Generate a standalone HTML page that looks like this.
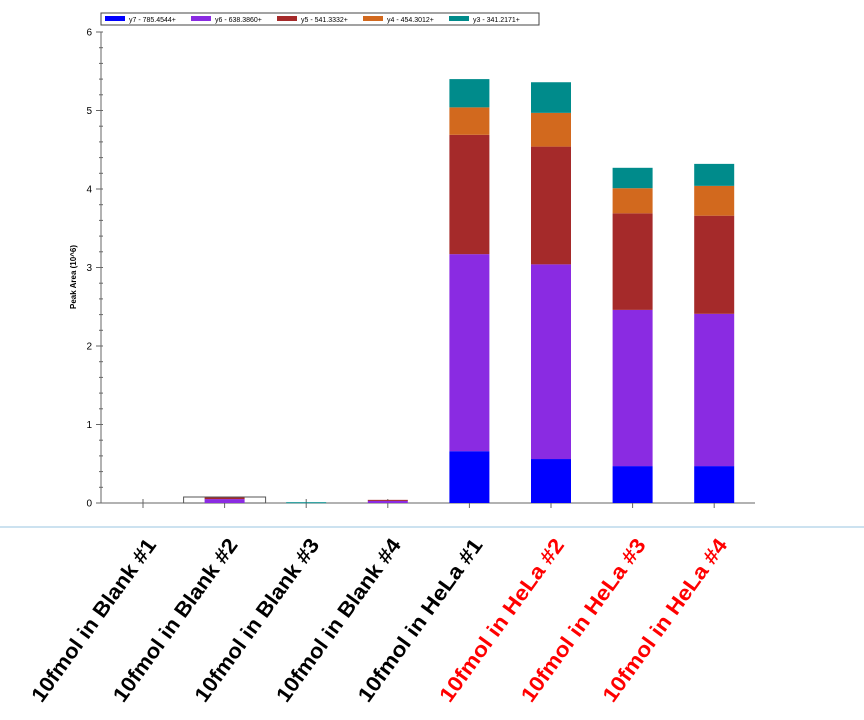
<!DOCTYPE html>
<html><head><meta charset="utf-8"><style>
html,body{margin:0;padding:0;background:#fff;}
svg{display:block;font-family:"Liberation Sans",sans-serif;}
</style></head><body>
<svg id="chart" width="864" height="720" viewBox="0 0 864 720">
<g id="legend">
<rect x="101" y="13" width="438" height="12" fill="#fff" stroke="#444" stroke-width="1"/>
</g>
<g id="axes"></g>
<g id="bars"></g>
<g id="labels"></g>
<line x1="0" y1="527" x2="864" y2="527" stroke="#bcd8ec" stroke-width="1.5"/>
<text x="0" y="0" transform="translate(76,277) rotate(-90)" text-anchor="middle" font-size="8" font-weight="bold" fill="#000">Peak Area (10^6)</text>
</svg>
<script>
const categories=["10fmol in Blank #1","10fmol in Blank #2","10fmol in Blank #3","10fmol in Blank #4","10fmol in HeLa #1","10fmol in HeLa #2","10fmol in HeLa #3","10fmol in HeLa #4"];
const labelColors=["#000","#000","#000","#000","#000","#f00","#f00","#f00"];
const seriesNames=["y7 - 785.4544+","y6 - 638.3860+","y5 - 541.3332+","y4 - 454.3012+","y3 - 341.2171+"];
const seriesColors=["#0000ff","#8a2be2","#a52a2a","#d2691e","#008b8b"];
const y7=[0,0,0,0,0.66,0.56,0.47,0.47];
const y6=[0,0.05,0,0.03,2.51,2.48,1.99,1.94];
const y5=[0,0.02,0,0.01,1.52,1.50,1.23,1.25];
const y4=[0,0,0,0,0.35,0.43,0.32,0.38];
const y3=[0,0,0.01,0,0.36,0.39,0.26,0.28];
const yTicks=[0,1,2,3,4,5,6];
const series=[y7,y6,y5,y4,y3];
const NS="http://www.w3.org/2000/svg";
const x0=101,x1=755,yBase=503,yTop=32,yMax=6;
const yS=v=>yBase-(v/yMax)*(yBase-yTop);
const step=81.6;
const xC=i=>143+i*step;
function mk(tag,attrs,parent){const e=document.createElementNS(NS,tag);for(const k in attrs)e.setAttribute(k,attrs[k]);parent.appendChild(e);return e;}
const ax=document.getElementById('axes'),bg=document.getElementById('bars'),lg=document.getElementById('legend'),lb=document.getElementById('labels');
let lx=105;
const lw=[86,86,86,86,86];
seriesNames.forEach((n,i)=>{
 const r=mk('rect',{x:lx,y:16,width:20,height:5,fill:seriesColors[i]},lg);
 
 
 const t=mk('text',{x:lx+24,y:22,'font-size':7,fill:'#000'},lg);t.textContent=n;
 
 
 lx+=lw[i];
});
const ya=mk('line',{x1:x0,y1:yTop,x2:x0,y2:yBase,stroke:'#666','stroke-width':1},ax);

const xa=mk('line',{x1:x0,y1:yBase,x2:x1,y2:yBase,stroke:'#666','stroke-width':1},ax);

for(let v=0;v<=yMax+1e-9;v+=0.2){const y=yS(v);mk('line',{x1:x0-2,y1:y,x2:x0+2,y2:y,stroke:'#666'},ax);}
yTicks.forEach(v=>{const y=yS(v);mk('line',{x1:x0-5,y1:y,x2:x0+1,y2:y,stroke:'#666'},ax);
 const t=mk('text',{x:x0-9,y:y+3.5,'font-size':10,'text-anchor':'end',fill:'#000'},ax);t.textContent=v;
 });
categories.forEach((c,i)=>{mk('line',{x1:xC(i),y1:yBase-4,x2:xC(i),y2:yBase+5,stroke:'#666'},ax);});
const hb=mk('rect',{x:xC(1)-41,y:yBase-6,width:82,height:6,fill:'#fff',stroke:'#555','stroke-width':1},bg);

categories.forEach((c,i)=>{
 let cum=0;
 series.forEach((s,k)=>{
  const v=s[i];if(v<=0)return;
  const yt=yS(cum+v),yb=yS(cum);cum+=v;
  const r=mk('rect',{x:xC(i)-20,y:yt,width:40,height:Math.max(yb-yt,1),fill:seriesColors[k]},bg);
  
  
 });
 const t=mk('text',{transform:`translate(${xC(i)+14},545) rotate(-54)`,'text-anchor':'end','font-size':21,'font-weight':'bold',fill:labelColors[i],textLength:196,lengthAdjust:'spacingAndGlyphs'},lb);
 t.textContent=c;
 
 
});
</script>
</body></html>
